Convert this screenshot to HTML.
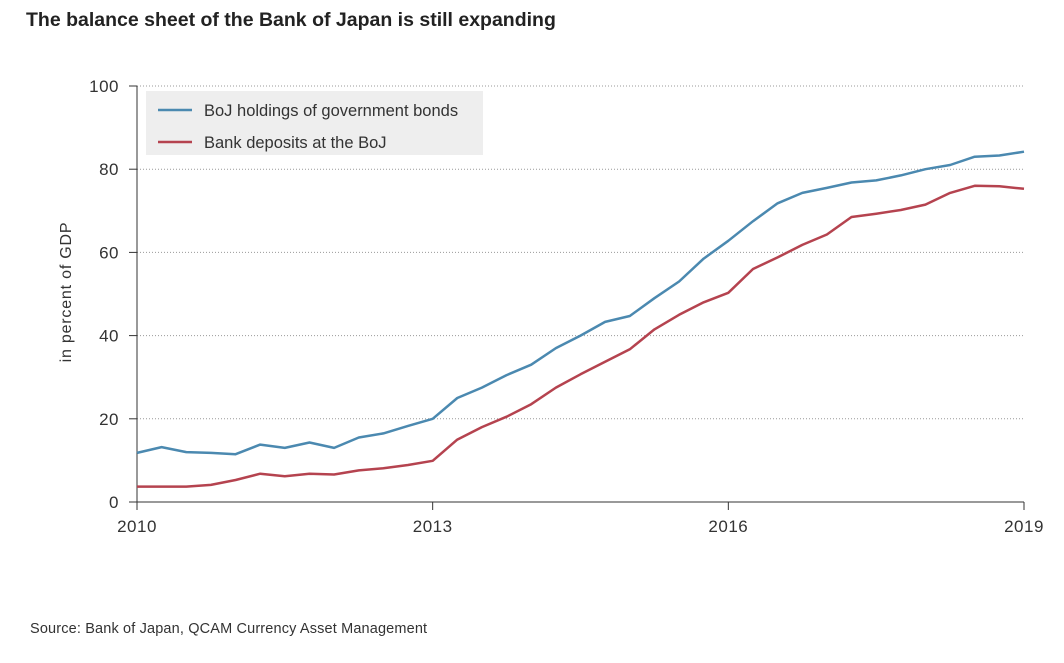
<!DOCTYPE html>
<html><head><meta charset="utf-8"><style>
body{margin:0;background:#fff;font-family:"Liberation Sans",sans-serif}
svg text{font-family:"Liberation Sans",sans-serif}
</style></head><body>
<svg width="1064" height="658" viewBox="0 0 1064 658">
<text x="26" y="26" font-size="19.5" font-weight="bold" fill="#222">The balance sheet of the Bank of Japan is still expanding</text>
<g id="grid"></g>
<g id="axes"></g>
<g id="series"></g>
<g>
<rect x="146" y="91" width="337" height="64" fill="#eeeeee"/>
<line x1="158" y1="110" x2="192" y2="110" stroke="#4b89b0" stroke-width="2.5"/>
<text x="204" y="116" font-size="16.5" fill="#333">BoJ holdings of government bonds</text>
<line x1="158" y1="142" x2="192" y2="142" stroke="#b5434f" stroke-width="2.5"/>
<text x="204" y="148" font-size="16.5" fill="#333">Bank deposits at the BoJ</text>
</g>
<text transform="translate(71,292) rotate(-90)" text-anchor="middle" font-size="16" letter-spacing="0.8" fill="#333">in percent of GDP</text>
<text x="30" y="633" font-size="14.5" letter-spacing="0.15" fill="#333">Source: Bank of Japan, QCAM Currency Asset Management</text>
</svg>
<script>
const bonds=[11.8,13.2,12,11.8,11.5,13.8,13,14.3,13,15.5,16.5,18.3,20,25,27.5,30.5,33,37,40,43.3,44.7,49,53,58.5,62.8,67.5,71.8,74.3,75.5,76.8,77.3,78.5,80,81,83,83.3,84.2];
const deposits=[3.7,3.7,3.7,4.1,5.3,6.8,6.2,6.8,6.6,7.6,8.1,8.9,9.9,15,18,20.5,23.5,27.5,30.7,33.7,36.7,41.5,45,48,50.3,56,58.8,61.8,64.3,68.5,69.3,70.2,71.5,74.3,76,75.9,75.3];
const yTicks=[0,20,40,60,80,100];
const xTicks=[2010,2013,2016,2019];
const startYear=2010;
const NS="http://www.w3.org/2000/svg";
const X0=137,X1=1024,Y0=502,Y1=86;
const xs=t=>X0+(t-startYear)/(2019-2010)*(X1-X0);
const ys=v=>Y0-(v/100)*(Y0-Y1);
function mk(tag,attrs,parent){const e=document.createElementNS(NS,tag);for(const k in attrs)e.setAttribute(k,attrs[k]);document.getElementById(parent).appendChild(e);return e;}
yTicks.forEach(v=>{
  if(v>0){const g=mk('line',{x1:X0,x2:X1,y1:ys(v),y2:ys(v),stroke:'#999','stroke-dasharray':'1,2','stroke-width':1},'grid');
  
  }
  const t=mk('text',{x:X0-18,y:ys(v)+6,'text-anchor':'end','font-size':17,'letter-spacing':0.5,fill:'#333'},'axes');t.textContent=v;
  
  
  const tk=mk('line',{x1:X0-8,x2:X0,y1:ys(v),y2:ys(v),stroke:'#333'},'axes');
  
  
});
const ya=mk('line',{x1:X0,x2:X0,y1:Y1,y2:Y0,stroke:'#333'},'axes');


const xa=mk('line',{x1:X0,x2:X1,y1:Y0,y2:Y0,stroke:'#333'},'axes');


xTicks.forEach(y=>{
  const tk=mk('line',{x1:xs(y),x2:xs(y),y1:Y0,y2:Y0+8,stroke:'#333'},'axes');
  
  
  const t=mk('text',{x:xs(y),y:Y0+30,'text-anchor':'middle','font-size':17,'letter-spacing':0.5,fill:'#333'},'axes');t.textContent=y;
  
  
});
function line(data,color,name){
  const pts=data.map((v,i)=>xs(startYear+i/4).toFixed(1)+','+ys(v).toFixed(1)).join(' ');
  const p=mk('polyline',{points:pts,fill:'none',stroke:color,'stroke-width':2.5,'stroke-linejoin':'round'},'series');
  
  
}
line(bonds,'#4b89b0','line-boj-bonds');
line(deposits,'#b5434f','line-bank-deposits');
</script>
</body></html>
